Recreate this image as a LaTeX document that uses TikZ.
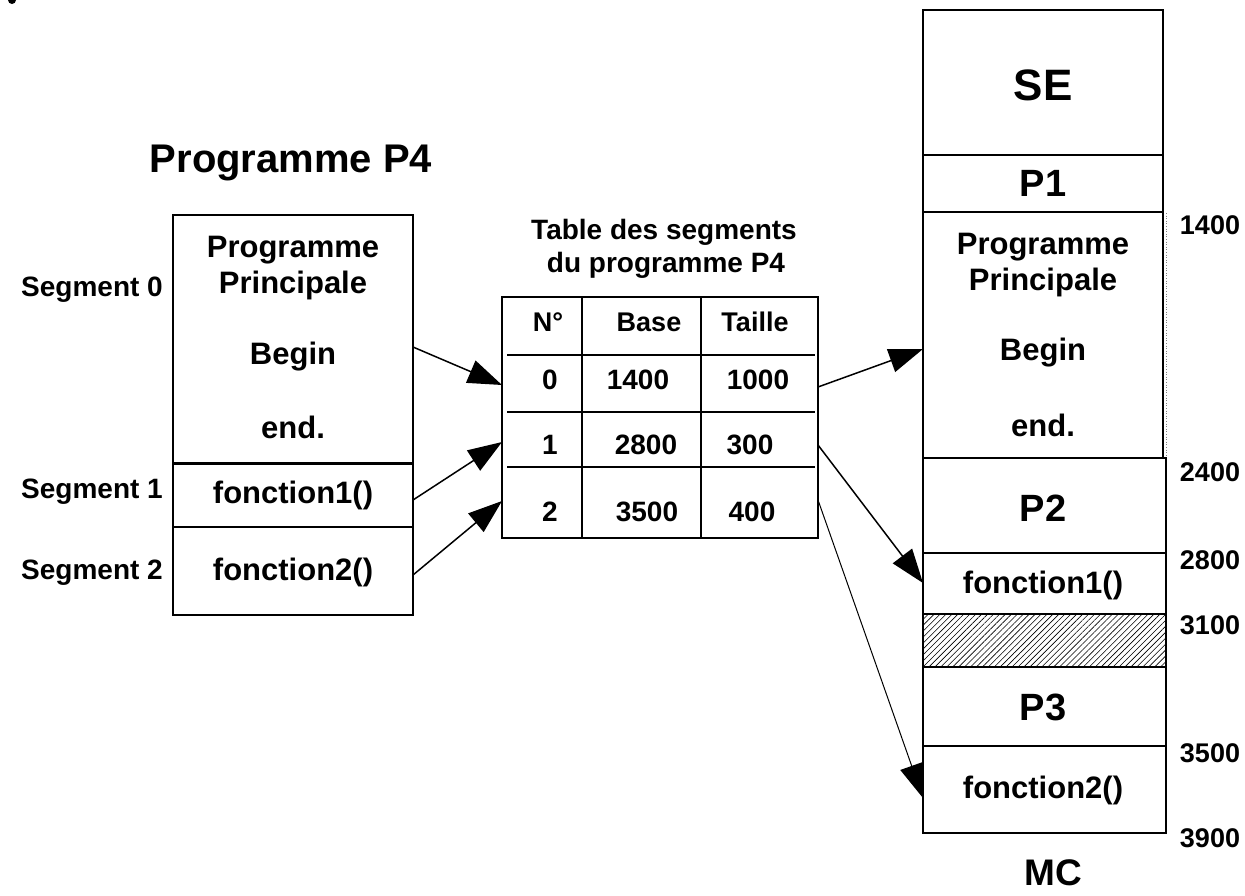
\documentclass[tikz,border=0pt]{standalone}
\usepackage{fontspec}
\setmainfont{Liberation Sans}
\usetikzlibrary{patterns.meta,arrows.meta}

\newcommand\txt[1]{\fontsize{#1}{#1}\selectfont\bfseries}

\tikzset{
  lbl/.style={inner sep=0pt, anchor=center, font=\txt{#1}},
  lbl/.default=27,
  boxline/.style={draw=black, line width=1.6pt},
  thinbox/.style={draw=black, line width=1.2pt},
  ptr/.style={line width=1.5pt, -{Triangle[length=34pt,width=24pt]}},
  ptrthin/.style={line width=1pt, -{Triangle[length=34pt,width=24pt]}},
  hatch/.style={pattern={Lines[angle=45,distance=4.2pt,line width=0.6pt]}},
}

\begin{document}
\begin{tikzpicture}[x=1pt,y=-1pt]
\useasboundingbox (0,0) rectangle (1245,895);
\fill[white] (0,0) rectangle (1245,895);

% stray mark at the upper left corner
\fill (12,0) circle (4);

% ---------------- program P4 and its segments ----------------
\node[lbl=40] (title) at (291,163) {Programme P4};
\draw[boxline] (173,215) rectangle (413,615);
\draw[line width=3pt] (173,463) -- (413,463);
\draw[boxline] (173,527) -- (413,527);

\node[lbl=31] (pp1) at (293,250) {Programme};
\node[lbl=31] (pp2) at (293,285) {Principale};
\node[lbl=31] (pbeg) at (293,357) {Begin};
\node[lbl=31] (pend) at (293,427) {end.};
\node[lbl=31] (pf1) at (293,495) {fonction1()};
\node[lbl=31] (pf2) at (293,572) {fonction2()};

\node[lbl=28] (seg0) at (92,290) {Segment 0};
\node[lbl=28] (seg1) at (92,492) {Segment 1};
\node[lbl=28] (seg2) at (92,573) {Segment 2};

% ---------------- segment table ----------------
\node[lbl=28] (tt1) at (664,232) {Table des segments};
\node[lbl=28] (tt2) at (666,265) {du programme P4};

\draw[boxline] (502,297) rectangle (818,538);
\draw[boxline] (582,297) -- (582,538);
\draw[boxline] (701,297) -- (701,538);
\draw[boxline] (507,355) -- (815,355);
\draw[boxline] (507,412) -- (815,412);
\draw[boxline] (507,467) -- (815,467);

\node[lbl] (hno) at (548,322) {N°};
\node[lbl] (hbase) at (649,322) {Base};
\node[lbl] (hsize) at (755,322) {Taille};

\node[lbl=28] (n0) at (550,380) {0};
\node[lbl=28] (b0) at (638,380) {1400};
\node[lbl=28] (t0) at (758,380) {1000};
\node[lbl=28] (n1) at (550,445) {1};
\node[lbl=28] (b1) at (646,445) {2800};
\node[lbl=28] (t1) at (750,445) {300};
\node[lbl=28] (n2) at (550,512) {2};
\node[lbl=28] (b2) at (647,512) {3500};
\node[lbl=28] (t2) at (752,512) {400};

% ---------------- main memory ----------------
\draw[line width=2.2pt] (923,10) rectangle (1163,155);
\draw[line width=2.2pt] (923,155) rectangle (1163,212);
\draw[line width=2.2pt] (923,212) rectangle (1163,458);
\draw[line width=0.6pt, dotted, gray] (1166,213) -- (1166,458);
\draw[thinbox] (923,458) rectangle (1166,553);
\draw[thinbox] (923,553) rectangle (1166,614);
\draw[thinbox, hatch] (923,614) rectangle (1166,667);
\draw[thinbox] (923,667) rectangle (1166,746);
\draw[thinbox] (923,746) rectangle (1166,833);
\draw[line width=2.2pt] (923,833) -- (1166,833);

\node[lbl=44] (mse) at (1043,85) {SE};
\node[lbl=38] (mp1) at (1043,183) {P1};
\node[lbl=31] (mpp1) at (1043,247) {Programme};
\node[lbl=31] (mpp2) at (1043,282) {Principale};
\node[lbl=31] (mbeg) at (1043,353) {Begin};
\node[lbl=31] (mend) at (1043,425) {end.};
\node[lbl=38] (mp2) at (1043,508) {P2};
\node[lbl=31] (mf1) at (1043,585) {fonction1()};
\node[lbl=38] (mp3) at (1043,707) {P3};
\node[lbl=31] (mf2) at (1043,790) {fonction2()};
\node[lbl=37] (mc) at (1053,873) {MC};

\node[lbl] (a1400) at (1210,225) {1400};
\node[lbl] (a2400) at (1210,472) {2400};
\node[lbl] (a2800) at (1210,560) {2800};
\node[lbl] (a3100) at (1210,625) {3100};
\node[lbl] (a3500) at (1210,753) {3500};
\node[lbl] (a3900) at (1210,838) {3900};

% ---------------- connector end points ----------------
\coordinate (s0out) at (413,347);
\coordinate (s1out) at (413,500);
\coordinate (s2out) at (413,575);
\coordinate (r0in) at (502,385);
\coordinate (r1in) at (502,442);
\coordinate (r2in) at (502,501);
\coordinate (r0out) at (818,387);
\coordinate (r1out) at (818,445);
\coordinate (r2out) at (818,500);
\coordinate (m0in) at (923,349);
\coordinate (m1in) at (923,583);
\coordinate (m2in) at (923,798);

\draw[ptr] (s0out) -- (r0in);
\draw[ptr] (s1out) -- (r1in);
\draw[ptr] (s2out) -- (r2in);
\draw[ptr] (r0out) -- (m0in);
\draw[ptr] (r1out) -- (m1in);
\draw[ptrthin] (r2out) -- (m2in);
\end{tikzpicture}
\end{document}
